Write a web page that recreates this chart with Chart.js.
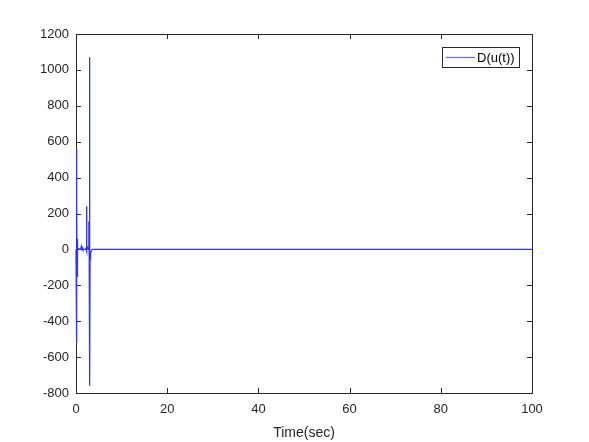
<!DOCTYPE html>
<html lang="en">
<head>
  <meta charset="UTF-8">
  <title>D(u(t))</title>
  <script src="https://cdn.jsdelivr.net/npm/chart.js"></script>
  <style>
    html, body { margin: 0; padding: 0; background: #fff; }
    #wrap { width: 589px; height: 442px; }
  </style>
</head>
<body>
  <div id="wrap"><canvas id="chart"></canvas></div>

  <script>
    // values
    const times = [0, 0.08, 0.14, 0.18, 0.22, 0.26, 0.3, 0.35, 0.4, 0.5, 0.8, 1.0, 1.15, 1.25, 1.35, 1.5, 1.8, 2.0, 2.2, 2.28, 2.33, 2.4, 2.55, 2.7, 2.8, 2.85, 2.9, 2.95, 3.0, 3.03, 3.08, 3.15, 3.25, 3.4, 3.6, 4.0, 100];
    const values = [0, 560, -520, 270, -150, 60, -20, 10, 0, 5, 0, 0, 15, -5, 10, 0, 0, 0, 5, 240, -10, 0, 10, 0, 20, 156, -30, 40, 1070, -760, -30, -40, -20, -5, 0, 0, 0];
    const yTicks = [-800, -600, -400, -200, 0, 200, 400, 600, 800, 1000, 1200];
    const xTicks = [0, 20, 40, 60, 80, 100];
    const seriesName = 'D(u(t))';
    const xTitle = 'Time(sec)';

    const points = times.map((t, i) => ({ x: t, y: values[i] }));
    const font = '"Liberation Sans", Arial, sans-serif';
    const lineColor = 'rgb(50,50,255)';

    // MATLAB style frame: box, inward ticks, legend inside the axes
    const framePlugin = {
      id: 'frame',
      beforeDatasetsDraw(chart) {
        const { ctx, chartArea: a, scales } = chart;
        ctx.save();
        ctx.strokeStyle = '#262626';
        ctx.lineWidth = 1;
        ctx.strokeRect(a.left + 0.5, a.top + 0.5, a.right - a.left, a.bottom - a.top);
        ctx.beginPath();
        xTicks.forEach(v => {
          const px = Math.round(scales.x.getPixelForValue(v)) + 0.5;
          ctx.moveTo(px, a.bottom); ctx.lineTo(px, a.bottom - 5);
          ctx.moveTo(px, a.top); ctx.lineTo(px, a.top + 5);
        });
        yTicks.forEach(v => {
          const py = Math.round(scales.y.getPixelForValue(v)) + 0.5;
          ctx.moveTo(a.left, py); ctx.lineTo(a.left + 5, py);
          ctx.moveTo(a.right, py); ctx.lineTo(a.right - 5, py);
        });
        ctx.stroke();
        ctx.restore();
      },
      afterDraw(chart) {
        const { ctx, chartArea: a } = chart;
        ctx.save();
        const lx = a.right - 90, ly = a.top + 13, lw = 77, lh = 20;
        ctx.fillStyle = '#fff';
        ctx.fillRect(lx, ly, lw, lh);
        ctx.strokeStyle = '#262626';
        ctx.lineWidth = 1;
        ctx.strokeRect(lx + 0.5, ly + 0.5, lw, lh);
        ctx.beginPath();
        ctx.strokeStyle = '#7070ff';
        ctx.lineWidth = 1.3;
        ctx.moveTo(lx + 4, ly + lh / 2 + 0.5);
        ctx.lineTo(lx + 33, ly + lh / 2 + 0.5);
        ctx.stroke();
        ctx.fillStyle = '#000';
        ctx.font = '13px ' + font;
        ctx.textBaseline = 'middle';
        ctx.fillText(seriesName, lx + 35, ly + lh / 2 + 1);
        ctx.restore();
      }
    };

    new Chart(document.getElementById('chart'), {
      type: 'line',
      data: {
        datasets: [{
          label: seriesName,
          data: points,
          borderColor: lineColor,
          borderWidth: 1.3,
          pointRadius: 0,
          tension: 0,
          fill: false,
          clip: 2
        }]
      },
      options: {
        responsive: true,
        maintainAspectRatio: false,
        animation: false,
        layout: { padding: { left: 0, top: 34, right: 57, bottom: 0 } },
        plugins: { legend: { display: false }, tooltip: { enabled: false } },
        scales: {
          x: {
            type: 'linear',
            min: 0,
            max: 100,
            afterBuildTicks: s => { s.ticks = xTicks.map(v => ({ value: v })); },
            afterFit: s => { s.height = 49; },
            grid: { display: false, drawTicks: false },
            border: { display: false },
            ticks: { color: '#262626', font: { family: font, size: 13 }, padding: 9, maxRotation: 0, callback: v => String(v) },
            title: { display: true, text: xTitle, color: '#262626', font: { family: font, size: 14 }, padding: { top: 1, bottom: 0 } }
          },
          y: {
            min: -800,
            max: 1200,
            afterBuildTicks: s => { s.ticks = yTicks.map(v => ({ value: v })); },
            afterFit: s => { s.width = 76; },
            grid: { display: false, drawTicks: false },
            border: { display: false },
            ticks: { color: '#262626', font: { family: font, size: 13 }, padding: 7, callback: v => String(v) }
          }
        }
      },
      plugins: [framePlugin]
    });
  </script>
</body>
</html>
